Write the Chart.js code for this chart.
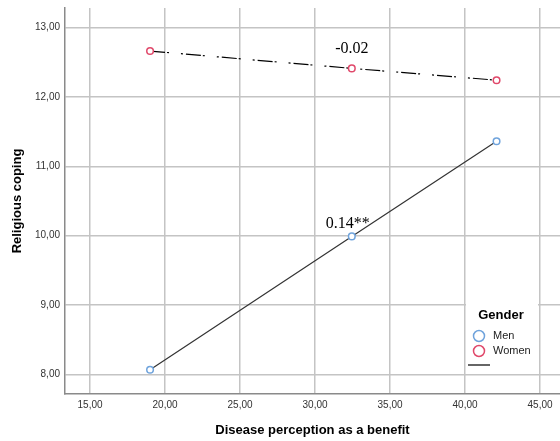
<!DOCTYPE html>
<html>
<head>
<meta charset="utf-8">
<script src="https://cdn.jsdelivr.net/npm/chart.js@4"></script>
<style>
  html, body { margin: 0; padding: 0; background: #fff; }
  #wrap { width: 560px; height: 441px; }
</style>
</head>
<body>
<div id="wrap"><canvas id="myChart" width="560" height="441"></canvas></div>
<script>
// data
const genders = ["Men", "Women"];
const benefitX = [19.0, 32.45, 42.1];
const menCoping = [8.07, 9.99, 11.36];
const womenCoping = [12.66, 12.41, 12.24];
const slopeLabels = ["0.14**", "-0.02"];
const xTicks = [15, 20, 25, 30, 35, 40, 45];
const yTicks = [8, 9, 10, 11, 12, 13];

const menColor = "#6fa3dc";
const womenColor = "#e0486a";

const fmt = (v) => v.toFixed(2).replace(".", ",");

function toPoints(ys) {
  return benefitX.map((x, i) => ({ x: x, y: ys[i] }));
}

// slope labels above the middle point + legend box
const extras = {
  id: "extras",
  afterDatasetsDraw(chart) {
    const ctx = chart.ctx;
    ctx.save();
    ctx.font = "16px 'Liberation Serif', 'Times New Roman', serif";
    ctx.fillStyle = "#000";
    ctx.textAlign = "center";
    ctx.textBaseline = "middle";
    const offs = [[-4, -13], [0, -20]];
    chart.data.datasets.forEach((ds, i) => {
      const p = chart.getDatasetMeta(i).data[1];
      ctx.fillText(slopeLabels[i], p.x + offs[i][0], p.y + offs[i][1]);
    });

    // legend
    const a = chart.chartArea;
    const bx = a.right - 94, by = a.bottom - 94;
    ctx.fillStyle = "#fff";
    ctx.fillRect(bx, by, 72, 72);
    ctx.fillStyle = "#000";
    ctx.font = "bold 13px 'Liberation Sans', Arial, sans-serif";
    ctx.fillText("Gender", bx + 35, by + 15);
    ctx.font = "11px 'Liberation Sans', Arial, sans-serif";
    ctx.textAlign = "left";
    const cols = [menColor, womenColor];
    genders.forEach((g, i) => {
      const cy = by + 36 + i * 15;
      ctx.beginPath();
      ctx.arc(bx + 13, cy, 5.5, 0, Math.PI * 2);
      ctx.strokeStyle = cols[i];
      ctx.lineWidth = 1.5;
      ctx.stroke();
      ctx.fillStyle = "#222";
      ctx.fillText(g, bx + 27, cy);
    });
    ctx.beginPath();
    ctx.moveTo(bx + 2, by + 65);
    ctx.lineTo(bx + 24, by + 65);
    ctx.strokeStyle = "#666";
    ctx.lineWidth = 2;
    ctx.stroke();
    ctx.restore();
  }
};

const ctx = document.getElementById("myChart").getContext("2d");

const myChart = new Chart(ctx, {
  type: "scatter",
  data: {
    datasets: [
      {
        label: genders[0],
        data: toPoints(menCoping),
        showLine: true,
        borderColor: "#333",
        borderWidth: 1.2,
        pointRadius: 3.3,
        pointBorderWidth: 1.5,
        pointBorderColor: menColor,
        pointBackgroundColor: "#fff",
      },
      {
        label: genders[1],
        data: toPoints(womenCoping),
        showLine: true,
        borderColor: "#000",
        borderWidth: 1.2,
        borderDash: [15, 2, 2, 12, 2, 3],
        pointRadius: 3.3,
        pointBorderWidth: 1.5,
        pointBorderColor: womenColor,
        pointBackgroundColor: "#fff",
      },
    ],
  },
  options: {
    responsive: false,
    animation: false,
    layout: { autoPadding: false, padding: { top: 8, right: 0, left: 0, bottom: 0 } },
    plugins: {
      legend: { display: false },
      tooltip: { enabled: false },
    },
    scales: {
      x: {
        type: "linear",
        min: 13.33,
        max: 46.33,
        afterBuildTicks: (s) => { s.ticks = xTicks.map((v) => ({ value: v })); },
        afterFit: (s) => { s.height = 47; s.paddingLeft = 0; s.paddingRight = 0; },
        grid: { color: "#c4c4c4", lineWidth: 1.5, drawTicks: false },
        border: { color: "#8a8a8a", width: 1.5 },
        ticks: {
          padding: 5,
          color: "#333",
          font: { family: "'Liberation Sans', Arial, sans-serif", size: 10 },
          maxRotation: 0,
          callback: (v) => fmt(v),
        },
        title: {
          display: true,
          text: "Disease perception as a benefit",
          color: "#000",
          padding: { top: 0, bottom: 3 },
          font: { family: "'Liberation Sans', Arial, sans-serif", size: 13, weight: "bold" },
        },
      },
      y: {
        type: "linear",
        min: 7.72,
        max: 13.28,
        afterBuildTicks: (s) => { s.ticks = yTicks.map((v) => ({ value: v })); },
        afterFit: (s) => { s.width = 65; s.paddingTop = 0; s.paddingBottom = 0; },
        grid: { color: "#c4c4c4", lineWidth: 1.5, drawTicks: false },
        border: { color: "#8a8a8a", width: 1.5 },
        ticks: {
          padding: 5,
          color: "#333",
          font: { family: "'Liberation Sans', Arial, sans-serif", size: 10 },
          callback: (v) => fmt(v),
        },
        title: {
          display: true,
          text: "Religious coping",
          color: "#000",
          padding: { top: 10, bottom: 0 },
          font: { family: "'Liberation Sans', Arial, sans-serif", size: 13, weight: "bold" },
        },
      },
    },
  },
  plugins: [extras],
});
</script>
</body>
</html>
